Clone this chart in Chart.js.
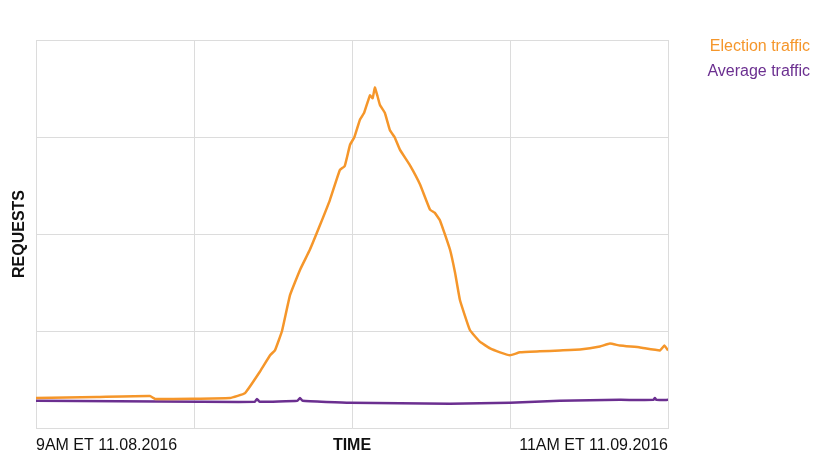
<!DOCTYPE html>
<html>
<head>
<meta charset="utf-8">
<script src="https://cdn.jsdelivr.net/npm/chart.js@4"></script>
<style>
  body { margin: 0; background: #fff; }
  #wrap { width: 820px; height: 465px; }
</style>
</head>
<body>
<div id="wrap"><canvas id="chart"></canvas></div>
<script>
// hours since 9AM 11.08.2016 (26 h span), values in grid units
var electionHours = [0, 2.5, 4.69, 4.9, 7.98, 8.6, 9.21, 9.63, 9.83, 10.12, 10.45, 10.86, 11.27, 11.68, 12.09, 12.5, 12.7, 12.92, 13.1, 13.33, 13.5, 13.74, 13.85, 13.94, 14.05, 14.15, 14.35, 14.56, 14.75, 14.97, 15.38, 15.8, 16.21, 16.4, 16.62, 17.03, 17.24, 17.44, 17.85, 18.26, 18.68, 19.09, 19.5, 19.91, 20.73, 21.55, 22.38, 23.2, 23.61, 24.02, 24.85, 25.67, 25.85, 26];
var electionValues = [0.31, 0.32, 0.33, 0.30, 0.31, 0.36, 0.58, 0.75, 0.80, 1.00, 1.37, 1.63, 1.84, 2.09, 2.35, 2.66, 2.70, 2.92, 3.00, 3.18, 3.25, 3.43, 3.40, 3.51, 3.42, 3.33, 3.25, 3.07, 3.00, 2.87, 2.71, 2.51, 2.25, 2.22, 2.14, 1.84, 1.60, 1.32, 1.01, 0.89, 0.82, 0.78, 0.75, 0.78, 0.79, 0.80, 0.81, 0.84, 0.87, 0.85, 0.83, 0.80, 0.85, 0.80];
var averageHours = [0, 6.75, 9.0, 9.09, 9.2, 10.75, 10.86, 10.97, 12.92, 17.03, 19.5, 21.55, 24.02, 25.4, 25.46, 25.52, 26];
var averageValues = [0.28, 0.27, 0.27, 0.30, 0.27, 0.28, 0.31, 0.28, 0.26, 0.25, 0.26, 0.28, 0.29, 0.29, 0.31, 0.29, 0.29];
var seriesLabels = ['Election traffic', 'Average traffic'];
var seriesColors = ['#f5962a', '#6b2f90'];
var xTickLabels = { 0: '9AM ET 11.08.2016', 13: 'TIME', 26: '11AM ET 11.09.2016' };

function toPoints(xs, ys) {
    var pts = [];
    for (var i = 0; i < xs.length; i++) pts.push({ x: xs[i], y: ys[i] });
    return pts;
}

// legend drawn as plain coloured text, right aligned
var textLegend = {
    id: 'textLegend',
    afterDraw: function (chart) {
        var ctx = chart.ctx;
        ctx.save();
        ctx.font = '16px "Liberation Sans", Arial, sans-serif';
        ctx.textAlign = 'right';
        ctx.textBaseline = 'middle';
        chart.data.datasets.forEach(function (ds, i) {
            ctx.fillStyle = ds.borderColor;
            ctx.fillText(ds.label, 810, 47 + i * 25);
        });
        ctx.restore();
    }
};

var grid = '#dcdcdc';
new Chart(document.getElementById('chart'), {
    type: 'line',
    data: {
        datasets: [
            { label: seriesLabels[0], data: toPoints(electionHours, electionValues), borderColor: seriesColors[0], borderWidth: 2.5, pointRadius: 0, tension: 0.1 },
            { label: seriesLabels[1], data: toPoints(averageHours, averageValues), borderColor: seriesColors[1], borderWidth: 2.5, pointRadius: 0, tension: 0.1 }
        ]
    },
    options: {
        responsive: true,
        maintainAspectRatio: false,
        animation: false,
        layout: { padding: { top: 40, right: 152, left: 0, bottom: 0 } },
        plugins: { legend: { display: false }, tooltip: { enabled: false } },
        scales: {
            x: {
                type: 'linear', min: 0, max: 26,
                afterBuildTicks: function (axis) {
                    axis.ticks = [0, 6.5, 13, 19.5, 26].map(function (v) { return { value: v }; });
                },
                afterFit: function (axis) { axis.height = 37; },
                grid: { color: grid, drawTicks: false },
                border: { color: grid },
                ticks: {
                    align: 'inner', padding: 8, maxRotation: 0, autoSkip: false,
                    color: '#111',
                    font: function (c) {
                        var bold = c.tick && c.tick.value === 13;
                        return { family: '"Liberation Sans", Arial, sans-serif', size: 16, weight: bold ? 'bold' : 'normal' };
                    },
                    callback: function (v) { return xTickLabels[v] || ''; }
                }
            },
            y: {
                min: 0, max: 4,
                afterFit: function (axis) { axis.width = 36; },
                grid: { color: grid, drawTicks: false },
                border: { color: grid },
                ticks: { display: false, stepSize: 1 },
                title: { display: true, text: 'REQUESTS', color: '#111', padding: { top: 10, bottom: 0 }, font: { family: '"Liberation Sans", Arial, sans-serif', size: 16, weight: 'bold' } }
            }
        }
    },
    plugins: [textLegend]
});
</script>
</body>
</html>
